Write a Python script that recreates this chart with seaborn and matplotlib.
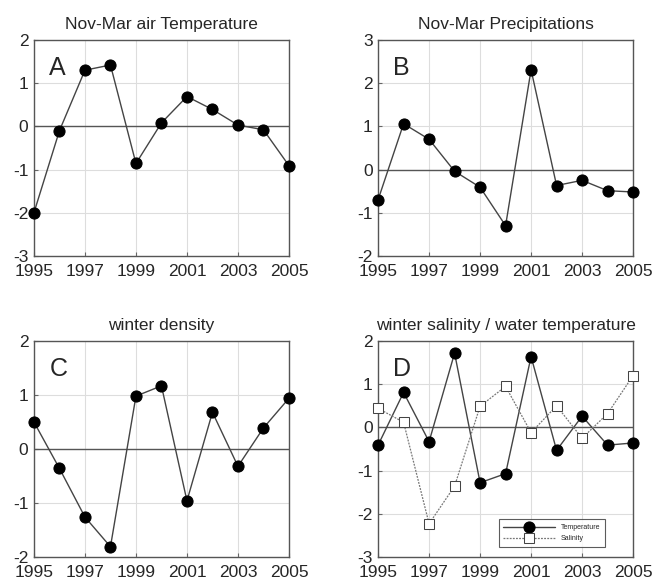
import pandas as pd
import matplotlib
matplotlib.use("Agg")
import matplotlib.pyplot as plt
import seaborn as sns

# Years shared by all panels
years = list(range(1995, 2006))

# Panel A: Nov-Mar air temperature anomaly
air_temp = [-2.0, -0.10, 1.30, 1.42, -0.86, 0.08, 0.69, 0.39, 0.03, -0.08, -0.91]
# Panel B: Nov-Mar precipitation anomaly
precip = [-0.70, 1.06, 0.70, -0.04, -0.41, -1.30, 2.31, -0.37, -0.25, -0.49, -0.52]
# Panel C: winter density anomaly
density = [0.50, -0.36, -1.26, -1.81, 0.98, 1.17, -0.96, 0.68, -0.32, 0.39, 0.94]
# Panel D: winter water temperature and salinity anomalies
water_temp = [-0.41, 0.81, -0.33, 1.72, -1.28, -1.07, 1.64, -0.53, 0.26, -0.41, -0.36]
salinity = [0.44, 0.12, -2.23, -1.36, 0.49, 0.95, -0.12, 0.50, -0.25, 0.32, 1.20]

sns.set_style("ticks")
plt.rcParams['font.family'] = ['Liberation Sans', 'DejaVu Sans']
plt.rcParams['axes.unicode_minus'] = False

fig = plt.figure(figsize=(6.53, 5.79), dpi=100)

w, h = 0.3905, 0.373
positions = {
    'A': [0.052, 0.558, w, h],
    'B': [0.579, 0.558, w, h],
    'C': [0.052, 0.038, w, h],
    'D': [0.579, 0.038, w, h],
}
titles = {
    'A': 'Nov-Mar air Temperature',
    'B': 'Nov-Mar Precipitations',
    'C': 'winter density',
    'D': 'winter salinity / water temperature',
}
ylims = {'A': (-3, 2), 'B': (-2, 3), 'C': (-2, 2), 'D': (-3, 2)}

def style_axis(ax, key):
    ax.set_xlim(1995, 2005)
    ax.set_ylim(*ylims[key])
    ax.set_xticks(range(1995, 2006, 2))
    ax.set_yticks(range(ylims[key][0], ylims[key][1] + 1))
    ax.grid(True, color='#dddddd', linewidth=0.8, linestyle='-')
    ax.set_axisbelow(True)
    ax.axhline(0, color='#555555', linewidth=1.0, zorder=1)
    ax.tick_params(direction='in', length=3, labelsize=12.5, color='#666666')
    ax.tick_params(axis='x', pad=6)
    ax.tick_params(axis='y', pad=4)
    for s in ax.spines.values():
        s.set_color('#555555')
        s.set_linewidth(1.0)
        s.set_visible(True)
    ax.set_title(titles[key], fontsize=12.5, pad=8)
    ax.set_xlabel('')
    ax.set_ylabel('')
    ax.text(0.06, 0.87, key, transform=ax.transAxes, fontsize=18, va='center', ha='left')

line_kw = dict(color='#444444', linewidth=1.0, marker='o', markersize=8,
               markerfacecolor='black', markeredgecolor='black')

for key, vals in [('A', air_temp), ('B', precip), ('C', density)]:
    ax = fig.add_axes(positions[key])
    df = pd.DataFrame({'year': years, 'value': vals})
    sns.lineplot(data=df, x='year', y='value', ax=ax, clip_on=False, zorder=3, **line_kw)
    style_axis(ax, key)

ax = fig.add_axes(positions['D'])
df_t = pd.DataFrame({'year': years, 'value': water_temp})
df_s = pd.DataFrame({'year': years, 'value': salinity})
sns.lineplot(data=df_t, x='year', y='value', ax=ax, clip_on=False, zorder=3,
             label='Temperature', **line_kw)
sns.lineplot(data=df_s, x='year', y='value', ax=ax, clip_on=False, zorder=3,
             label='Salinity', color='#777777', linewidth=0.9, linestyle=(0, (1.5, 1)),
             marker='s', markersize=7, markerfacecolor='white', markeredgecolor='#444444')
style_axis(ax, 'D')
leg = ax.legend(loc='lower right', bbox_to_anchor=(0.905, 0.03), fontsize=5,
                frameon=True, fancybox=False, edgecolor='#333333', handlelength=7.5,
                borderpad=0.7, labelspacing=0.6)
leg.get_frame().set_linewidth(0.8)

fig.savefig('out.png', dpi=100)
